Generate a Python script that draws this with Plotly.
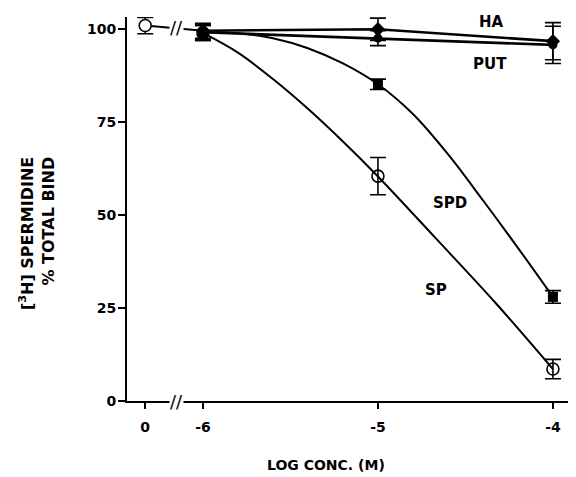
import plotly.graph_objects as go

# ---------------- data ----------------
conc_log = [-6, -5, -4]                 # log concentration (M)

ha_y = [99.6, 100.0, 96.8]
ha_err = [2.0, 3.0, 5.0]
put_y = [99.2, 97.6, 95.8]
put_err = [2.0, 2.0, 5.0]
spd_y = [99.0, 85.2, 28.0]
spd_err = [2.0, 1.4, 1.7]
sp_y = [99.0, 60.5, 8.6]
sp_err = [2.0, 5.0, 2.6]

# control (no drug), plotted at the "0" position left of the axis break
ctrl_x = [-6.33]
ctrl_y = [101.0]
ctrl_err = [2.2]

# fitted curves
sp_fit_x = [-6.0, -5.8, -5.6, -5.4, -5.2, -5.0, -4.67, -4.33, -4.0]
sp_fit_y = [99.0, 93.7, 86.6, 78.6, 69.8, 60.4, 43.8, 26.5, 8.6]
spd_fit_x = [-6.0, -5.8, -5.6, -5.4, -5.2, -5.0, -4.8, -4.6, -4.4, -4.2, -4.0]
spd_fit_y = [99.2, 98.9, 97.6, 94.9, 90.8, 85.2, 77.2, 66.4, 54.0, 41.2, 28.0]

# axis ticks
x_tickvals = [-6.33, -6, -5, -4]
x_ticktext = ["0", "-6", "-5", "-4"]
y_tickvals = [0, 25, 50, 75, 100]
y_ticktext = ["0", "25", "50", "75", "100"]
break_x = -6.15

# curve labels
label_text = ["HA", "PUT", "SPD", "SP"]
label_x = [-4.35, -4.36, -4.59, -4.67]
label_y = [102.0, 90.7, 53.3, 29.9]

FONT = "DejaVu Sans, Verdana, sans-serif"

fig = go.Figure()

# fitted curves
for fx, fy in [(sp_fit_x, sp_fit_y), (spd_fit_x, spd_fit_y)]:
    fig.add_trace(go.Scatter(x=fx, y=fy, mode="lines",
                             line=dict(color="black", width=2, shape="spline", smoothing=1.0),
                             hoverinfo="skip", showlegend=False))
for fy in [ha_y, put_y]:
    fig.add_trace(go.Scatter(x=conc_log, y=fy, mode="lines",
                             line=dict(color="black", width=2.6),
                             hoverinfo="skip", showlegend=False))
# control connection to the first point
fig.add_trace(go.Scatter(x=[ctrl_x[0], conc_log[0]], y=[ctrl_y[0], ha_y[0]], mode="lines",
                         line=dict(color="black", width=2),
                         hoverinfo="skip", showlegend=False))

def err(arr):
    return dict(type="data", array=arr, visible=True, color="black", thickness=1.6, width=8)

# markers
fig.add_trace(go.Scatter(x=conc_log, y=sp_y, mode="markers", name="SP",
                         marker=dict(symbol="circle-open", size=12, color="black", line=dict(width=1.6)),
                         error_y=err(sp_err), showlegend=False))
fig.add_trace(go.Scatter(x=conc_log, y=spd_y, mode="markers", name="SPD",
                         marker=dict(symbol="square", size=10, color="black"),
                         error_y=err(spd_err), showlegend=False))
fig.add_trace(go.Scatter(x=conc_log, y=put_y, mode="markers", name="PUT",
                         marker=dict(symbol="circle", size=9, color="black"),
                         error_y=err(put_err), showlegend=False))
fig.add_trace(go.Scatter(x=conc_log, y=ha_y, mode="markers", name="HA",
                         marker=dict(symbol="diamond", size=11, color="black"),
                         error_y=err(ha_err), showlegend=False))
fig.add_trace(go.Scatter(x=ctrl_x, y=ctrl_y, mode="markers", name="Control",
                         marker=dict(symbol="circle", size=12, color="white",
                                     line=dict(color="black", width=1.6)),
                         error_y=err(ctrl_err), showlegend=False))

annotations = []
for t, x, y in zip(label_text, label_x, label_y):
    annotations.append(dict(x=x, y=y, xref="x", yref="y", text=t, showarrow=False,
                            xanchor="center", yanchor="middle",
                            font=dict(family=FONT, size=15, color="black", weight="bold")))
# axis break marks
for yb in [0, 100.4]:
    annotations.append(dict(x=break_x, y=yb, xref="x", yref="y", text="//", showarrow=False,
                            xanchor="center", yanchor="middle",
                            bgcolor="white", borderpad=0,
                            font=dict(family=FONT, size=18, color="black")))
# y axis title
annotations.append(dict(x=-0.202, y=0.435, xref="paper", yref="paper",
                        xanchor="center", yanchor="middle",
                        text="[<sup>3</sup>H] SPERMIDINE<br>% TOTAL BIND",
                        textangle=-90, align="right", showarrow=False,
                        font=dict(family=FONT, size=16, color="black", weight="bold")))
# x axis title
annotations.append(dict(x=0.447, y=-0.167, xref="paper", yref="paper",
                        xanchor="center", yanchor="middle",
                        text="LOG CONC. (M)", showarrow=False,
                        font=dict(family=FONT, size=14, color="black", weight="bold")))

fig.update_layout(
    width=568, height=469,
    margin=dict(l=119, r=4, t=9, b=76),
    paper_bgcolor="white", plot_bgcolor="white",
    font=dict(family=FONT, color="black"),
    annotations=annotations,
    xaxis=dict(range=[-6.434, -3.891], showgrid=False, zeroline=False,
               showline=True, linecolor="black", linewidth=2,
               ticks="outside", ticklen=6, tickwidth=1.5, tickcolor="black",
               ticklabelstandoff=6,
               tickvals=x_tickvals, ticktext=x_ticktext,
               tickfont=dict(family=FONT, size=14, color="black", weight="bold")),
    yaxis=dict(range=[0, 103.3], showgrid=False, zeroline=False,
               showline=True, linecolor="black", linewidth=2,
               ticks="outside", ticklen=7, tickwidth=1.5, tickcolor="black",
               ticklabelstandoff=-1,
               tickvals=y_tickvals, ticktext=y_ticktext,
               tickfont=dict(family=FONT, size=14, color="black", weight="bold")),
)

fig.write_html("out.html")
